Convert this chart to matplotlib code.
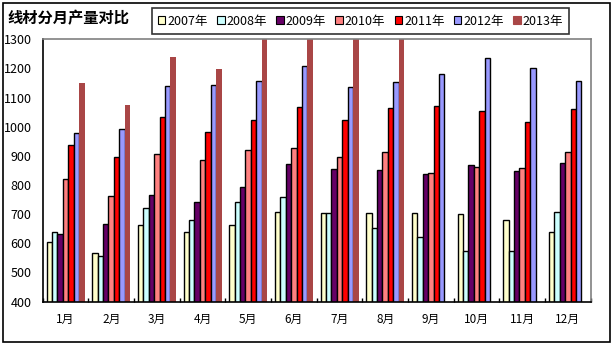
import matplotlib
matplotlib.use('Agg')
import matplotlib.pyplot as plt
import numpy as np
from matplotlib.patches import Patch, Rectangle

plt.rcParams['font.family'] = ['Noto Sans CJK SC', 'DejaVu Sans']

months = ['1月', '2月', '3月', '4月', '5月', '6月', '7月', '8月', '9月', '10月', '11月', '12月']
years = ['2007年', '2008年', '2009年', '2010年', '2011年', '2012年', '2013年']

y2007 = [603, 565, 661, 637, 661, 706, 703, 703, 705, 699, 679, 637]
y2008 = [637, 555, 720, 679, 741, 758, 705, 653, 620, 572, 575, 706]
y2009 = [630, 665, 765, 741, 793, 871, 854, 851, 837, 868, 847, 875]
y2010 = [820, 761, 906, 885, 919, 926, 895, 912, 840, 861, 857, 912]
y2011 = [937, 895, 1033, 981, 1022, 1067, 1022, 1064, 1071, 1053, 1016, 1060]
y2012 = [978, 992, 1140, 1143, 1157, 1208, 1136, 1153, 1181, 1236, 1202, 1157]
y2013 = [1151, 1075, 1240, 1199, 1340, 1360, 1350, 1345, np.nan, np.nan, np.nan, np.nan]

series = [y2007, y2008, y2009, y2010, y2011, y2012, y2013]
colors = ['#FFFFCC', '#CCFFFF', '#660066', '#FF8080', '#FF0000', '#9999FF', '#A94646']
edges = ['black'] * 6 + ['none']

fig = plt.figure(figsize=(6.11, 3.46), dpi=100)
ax = fig.add_axes([0.0699, 0.1286, 0.8969, 0.7578])

x = np.arange(len(months))
w = 0.119
for j, (vals, c, ec) in enumerate(zip(series, colors, edges)):
    ax.bar(x + (j - 3) * w, vals, width=w, bottom=0, color=c, edgecolor=ec, linewidth=1.0)

ax.set_ylim(400, 1300)
ax.set_xlim(-0.5, len(months) - 0.5)
ax.set_yticks(range(400, 1301, 100))
ax.tick_params(axis='y', length=0, labelsize=9, pad=8)
ax.set_xticks(x)
ax.set_xticklabels(months, fontsize=8.5)
ax.tick_params(axis='x', length=0, pad=8)
# small inward ticks between month groups
ax.set_xticks(np.arange(-0.5, len(months)), minor=True)
ax.tick_params(axis='x', which='minor', direction='in', length=3, width=1)

ax.spines['left'].set_color('black')
ax.spines['bottom'].set_color('black')
ax.spines['top'].set_color('#808080')
ax.spines['right'].set_color('#808080')
for s in ax.spines.values():
    s.set_linewidth(1.2)

fig.text(0.013, 0.948, '线材分月产量对比', fontsize=11, fontweight='bold', va='center', ha='left')

handles = [Patch(facecolor=c, edgecolor=('black' if ec == 'black' else c), linewidth=0.8) for c, ec in zip(colors, edges)]
leg = fig.legend(handles, years, loc='center', bbox_to_anchor=(0.590, 0.939), ncol=7,
                 fontsize=9, frameon=True, fancybox=False, edgecolor='black',
                 handlelength=0.6, handleheight=0.6, handletextpad=0.15,
                 columnspacing=0.75, borderpad=0.5)
leg.get_frame().set_linewidth(1.2)

# chart frame
fig.patches.append(Rectangle((2.5 / 611, 1 - 342 / 346), 607.5 / 611, 339.5 / 346,
                             transform=fig.transFigure, fill=False, edgecolor='black', linewidth=1.2))

fig.savefig('out.png', dpi=100)
